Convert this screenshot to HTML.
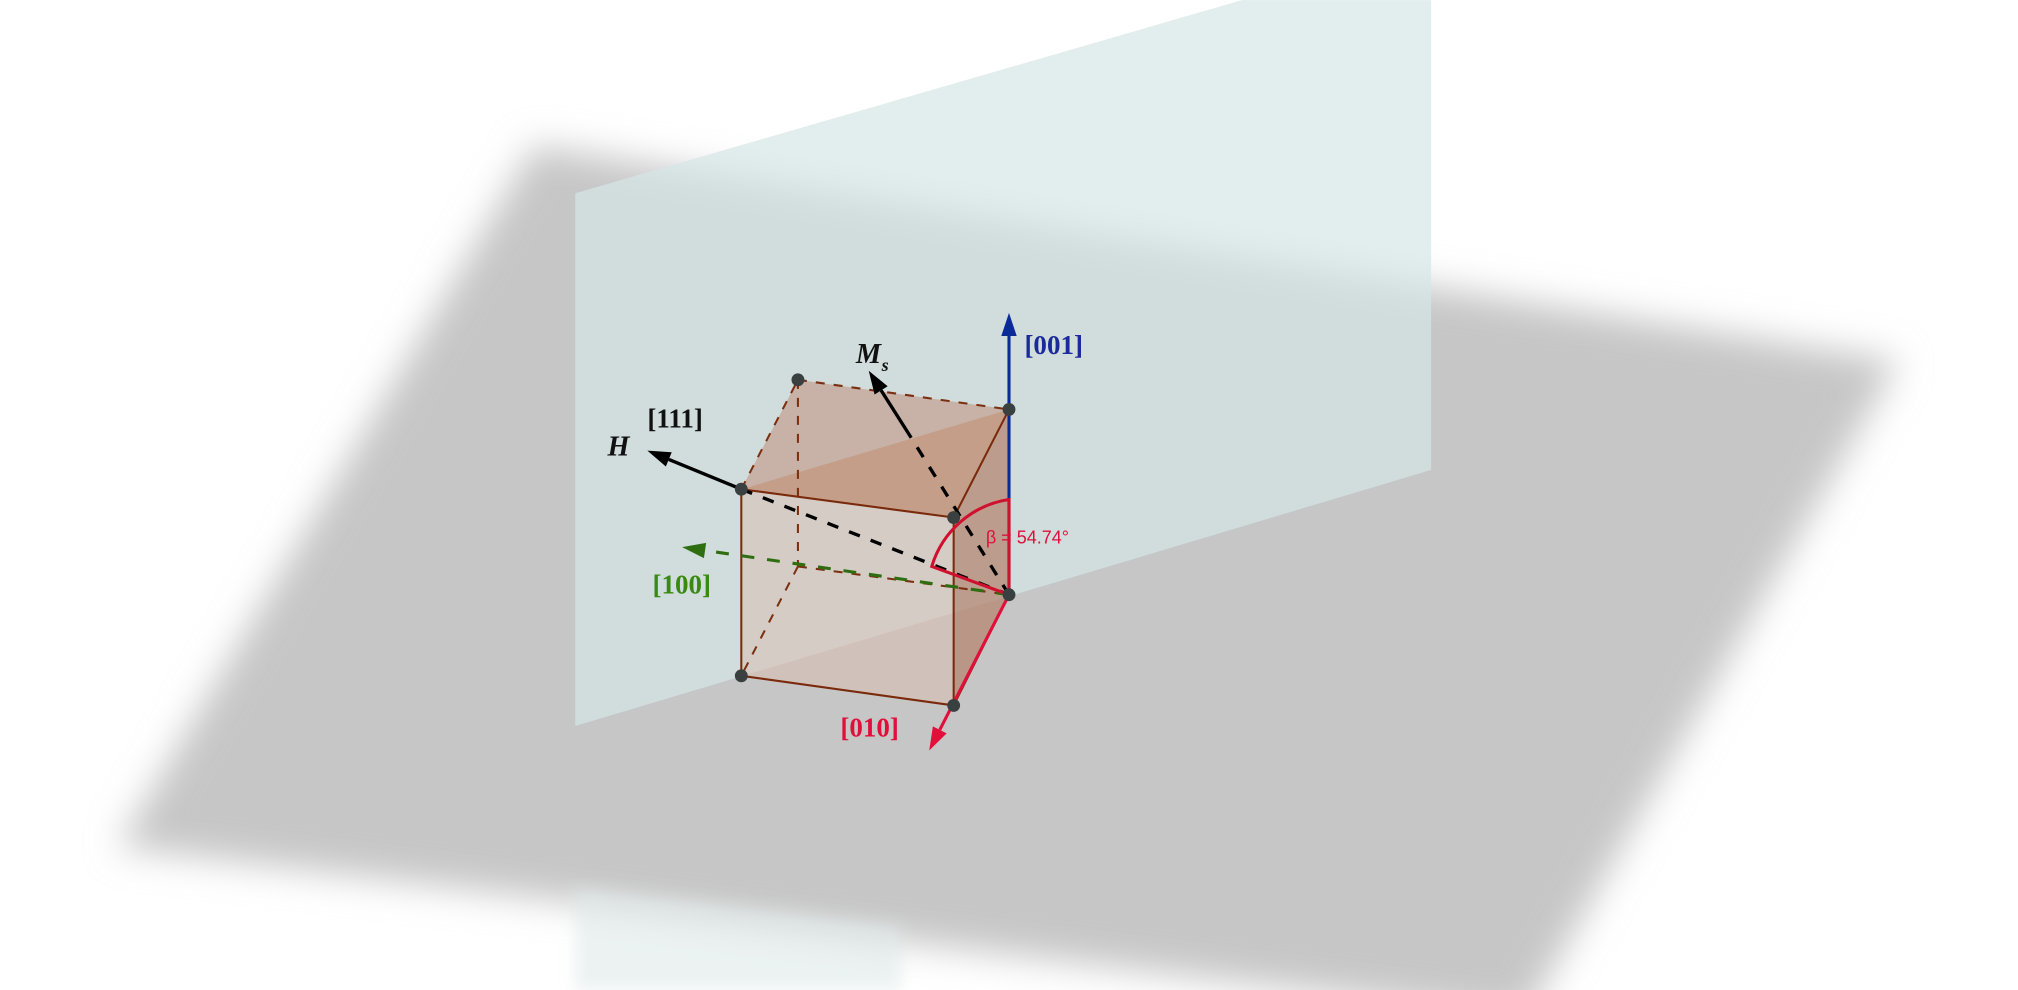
<!DOCTYPE html>
<html><head><meta charset="utf-8"><style>
html,body{margin:0;padding:0;background:#fff;width:2018px;height:990px;overflow:hidden}
svg{display:block}
text{font-family:"Liberation Serif",serif}
</style></head><body>
<svg width="2018" height="990" viewBox="0 0 1568 769">
<defs>
<filter id="blur" x="-10%" y="-10%" width="120%" height="120%"><feGaussianBlur stdDeviation="14"/></filter>
<filter id="blur2"><feGaussianBlur stdDeviation="6"/></filter>
</defs>
<g id="planes"></g>
<g id="cube"></g>
<g id="arrows"></g>
<g id="labels"></g>
<script>
var ns="http://www.w3.org/2000/svg";
// vertex names and projected positions of the cube (diagram geometry)
var vertexNames=["A","B","C","D","E","F","G","H"];
var vertexX=[576,741,784,620,576,741,784,620];
var vertexY=[380,402,318,295,525,548,462,440];
var solidEdges=[["A","B"],["B","C"],["A","E"],["E","F"],["B","F"],["F","G"],["C","G"]];
var dashedEdges=[["A","D"],["D","C"],["D","H"],["H","E"],["H","G"]];
var angleLabel="β = 54.74°";
function P(n){var i=vertexNames.indexOf(n);return [vertexX[i],vertexY[i]];}
function el(tag,attrs,parent){var e=document.createElementNS(ns,tag);for(var k in attrs)e.setAttribute(k,attrs[k]);parent.appendChild(e);return e;}
function pts(arr){return arr.map(function(n){return P(n).join(",")}).join(" ");}
var planes=document.getElementById("planes");
var g1=el("polygon",{points:"415,113 1475,280 1185,790 92,658",fill:"#c6c6c6",filter:"url(#blur)"},planes);


var v1=el("polygon",{points:"447,150 965,0 1112,0 1112,365 447,564",fill:"#d6e6e6","fill-opacity":"0.7"},planes);


var v2=el("polygon",{points:"447,690 700,720 700,769 447,769",fill:"#dfeaea","fill-opacity":"0.6",filter:"url(#blur2)"},planes);


var cube=document.getElementById("cube");
var faces=[[["A","B","F","E"],"#d9bfb3",0.55],[["A","D","C"],"#c4a496",0.75],[["A","C","B"],"#c08a6e",0.75],[["B","C","G","F"],"#b3826b",0.7]];
faces.forEach(function(f,i){var p=el("polygon",{points:pts(f[0]),fill:f[1],"fill-opacity":f[2]},cube);

});
dashedEdges.forEach(function(e){var a=P(e[0]),b=P(e[1]);var l=el("line",{x1:a[0],y1:a[1],x2:b[0],y2:b[1],stroke:"#7a3010","stroke-width":1.6,"stroke-dasharray":"7,7"},cube);

});
solidEdges.forEach(function(e){var a=P(e[0]),b=P(e[1]);var l=el("line",{x1:a[0],y1:a[1],x2:b[0],y2:b[1],stroke:"#7a2a0a","stroke-width":1.6},cube);

});
var ar=document.getElementById("arrows");
function arrow(x1,y1,x2,y2,col,w,dash,name){
 var g=el("g",{},ar);
 
 
 var dx=x2-x1,dy=y2-y1,L=Math.hypot(dx,dy),ux=dx/L,uy=dy/L,h=18,hw=6;
 var bx=x2-ux*h,by=y2-uy*h;
 el("line",{x1:x1,y1:y1,x2:bx,y2:by,stroke:col,"stroke-width":w,"stroke-dasharray":dash||"none"},g);
 el("polygon",{points:x2+","+y2+" "+(bx-uy*hw)+","+(by+ux*hw)+" "+(bx+uy*hw)+","+(by-ux*hw),fill:col},g);
}
var G=P("G"),A=P("A");
var d1=el("line",{x1:A[0],y1:A[1],x2:G[0],y2:G[1],stroke:"#000","stroke-width":2.6,"stroke-dasharray":"9,9"},ar);


var d2=el("line",{x1:G[0],y1:G[1],x2:708,y2:340,stroke:"#000","stroke-width":2.6,"stroke-dasharray":"9,9"},ar);


arrow(G[0],G[1],530,425,"#2f6e10",2.4,"10,10","axis-100");
arrow(G[0],G[1],784,243,"#0a2a9a",2.4,null,"axis-001");
arrow(G[0],G[1],722,583,"#e0103a",2.4,null,"axis-010");
arrow(A[0],A[1],503,350,"#000",2.6,null,"h-arrow");
arrow(708,340,675,288,"#000",2.6,null,"ms-arrow");
var arc=el("path",{d:"M784,462 L784,388 A74,74 0 0 0 724,440 Z",fill:"none",stroke:"#d0102e","stroke-width":2.4},ar);


vertexNames.forEach(function(n){if(n==="H")return;var p=P(n);var c=el("circle",{cx:p[0],cy:p[1],r:5,fill:"#3a3f40"},cube.parentNode);

});
var lb=document.getElementById("labels");
function txt(x,y,s,col,size,name,style,fam){var t=el("text",{x:x,y:y,fill:col,"font-size":size,"font-weight":"bold","font-style":style||"normal"},lb);if(fam)t.setAttribute("style","font-family:"+fam);t.textContent=s;

return t;}
txt(796,275,"[001]","#1a2a9a",21,"label-001");
txt(503,332,"[111]","#111",21,"label-111");
txt(472,354,"H","#111",22,"label-h","italic");
txt(665,282,"M","#111",22,"label-ms","italic");
txt(685,288,"s","#111",14,"label-ms-sub","italic");
txt(507,461,"[100]","#3a8a10",21,"label-100");
txt(653,572,"[010]","#e0103a",21,"label-010");
var b=txt(766,422,angleLabel,"#e0103a",14,"angle-label","normal","'Liberation Sans',sans-serif");
b.setAttribute("font-weight","normal");
</script>
</svg>
</body></html>
